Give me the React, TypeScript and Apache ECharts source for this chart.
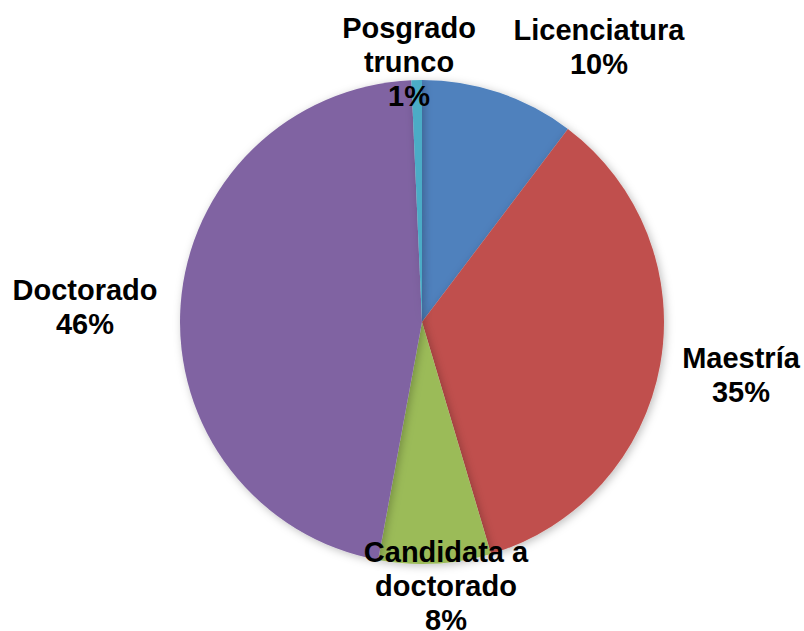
import React, { useEffect, useRef } from "react";
import * as echarts from "echarts";

const categories = ["Licenciatura", "Maestría", "Candidata a\ndoctorado", "Doctorado", "Posgrado\ntrunco"];
const values = [10.3, 35.1, 7.5, 46.4, 0.7];
const colors = ["#4F81BD", "#C0504D", "#9BBB59", "#8064A2", "#4BACC6"];
const labelCenters: [number, number][] = [
  [599, 47],
  [741, 375],
  [446, 586],
  [85, 307],
  [409, 62],
];

export default function App() {
  const ref = useRef<HTMLDivElement>(null);
  useEffect(() => {
    if (!ref.current) return;
    const chart = echarts.init(ref.current, null, { renderer: "svg" });
    chart.setOption({
      animation: false,
      backgroundColor: "#ffffff",
      series: [
        {
          type: "pie",
          center: [422, 322],
          radius: 242,
          startAngle: 90,
          clockwise: true,
          avoidLabelOverlap: false,
          data: categories.map((name, i) => ({
            name,
            value: values[i],
            itemStyle: { color: colors[i] },
          })),
          itemStyle: {
            shadowBlur: 8,
            shadowOffsetX: 2,
            shadowOffsetY: 2,
            shadowColor: "rgba(0,0,0,0.25)",
          },
          label: {
            show: true,
            position: "outside",
            formatter: (p: any) => `${p.name}\n${Math.round(p.percent)}%`,
            fontFamily: "Liberation Sans, Arial, sans-serif",
            fontWeight: "bold",
            fontSize: 29,
            lineHeight: 34,
            color: "#000000",
            align: "center",
          },
          labelLine: { show: false },
          labelLayout: (params: any) => {
            const c = labelCenters[params.dataIndex];
            return {
              x: c[0],
              y: c[1],
              align: "center",
              verticalAlign: "middle",
            };
          },
        },
      ],
    });
    return () => chart.dispose();
  }, []);
  return (
    <div
      ref={ref}
      style={{ position: "fixed", left: 0, top: 0, width: 804, height: 631 }}
    />
  );
}
